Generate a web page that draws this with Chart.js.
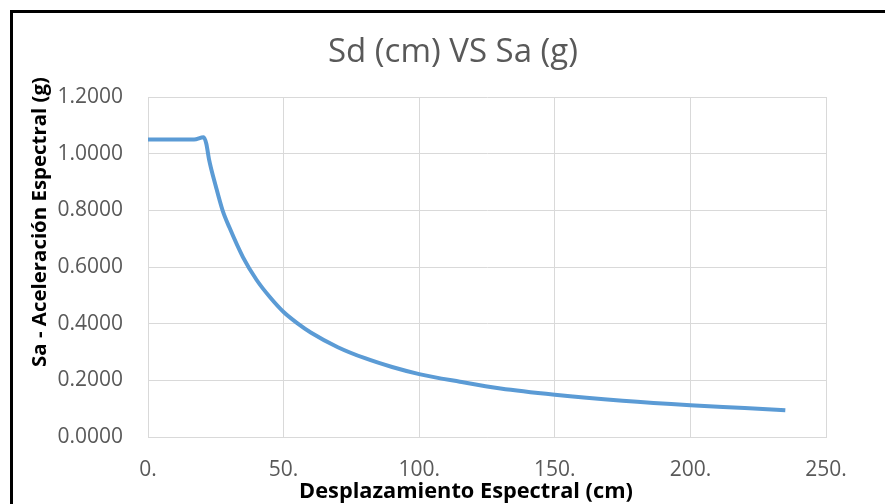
<!DOCTYPE html>
<html lang="es">
  <head>
    <meta charset="UTF-8" />
    <title>Sd (cm) VS Sa (g)</title>
    <script src="https://cdn.jsdelivr.net/npm/chart.js"></script>
    <style>
      html, body {
        margin: 0;
        padding: 0;
        background: #ffffff;
        overflow: hidden;
      }
      #wrap {
        position: relative;
        width: 885px;
        height: 504px;
      }
      #frame {
        position: absolute;
        left: 10px;
        top: 10px;
        width: 2000px;
        height: 2000px;
        border: 3px solid #000000;
        pointer-events: none;
      }
    </style>
  </head>
  <body>
    <div id="wrap">
      <canvas id="spectrumChart" width="885" height="504"></canvas>
      <div id="frame"></div>
    </div>

    <script>
      // Values
      const sdValues = [0, 17, 20.5, 21.5, 22.5, 25, 27.5, 30, 35, 40, 45, 50, 55, 60, 70, 80, 90, 100, 115, 130, 150, 175, 200, 220, 235];
      const saValues = [1.05, 1.05, 1.058, 1.035, 0.98, 0.885, 0.8, 0.74, 0.635, 0.555, 0.493, 0.441, 0.402, 0.369, 0.317, 0.278, 0.247, 0.222, 0.195, 0.171, 0.149, 0.128, 0.112, 0.102, 0.094];
      const xTickValues = [0, 50, 100, 150, 200, 250];
      const yTickValues = [0, 0.2, 0.4, 0.6, 0.8, 1.0, 1.2];

      const chartTitle = "Sd (cm) VS Sa (g)";
      const xTitle = "Desplazamiento Espectral (cm)";
      const yTitle = "Sa - Aceleración Espectral (g)";

      const FONT = "'Open Sans', 'Noto Sans', sans-serif";
      const GRID = "#d9d9d9";
      const TEXT_GRAY = "#595959";

      // scale a font so the text spans the given width
      function fitFont(ctx, text, width, weight) {
        ctx.font = weight + " 100px " + FONT;
        const size = (100 * width) / ctx.measureText(text).width;
        return weight + " " + size.toFixed(2) + "px " + FONT;
      }

      const titlesPlugin = {
        id: "titles",
        afterDraw(chart) {
          const ctx = chart.ctx;
          ctx.save();
          ctx.textAlign = "center";
          ctx.textBaseline = "alphabetic";

          // main title
          ctx.fillStyle = TEXT_GRAY;
          ctx.font = fitFont(ctx, chartTitle, 250, "normal");
          ctx.fillText(chartTitle, 453, 62);

          // x axis title
          ctx.fillStyle = "#000000";
          ctx.font = fitFont(ctx, xTitle, 334, "bold");
          ctx.fillText(xTitle, 466, 498);

          // y axis title, rotated
          ctx.font = fitFont(ctx, yTitle, 290, "bold");
          ctx.translate(46, 222);
          ctx.rotate(-Math.PI / 2);
          ctx.fillText(yTitle, 0, 0);
          ctx.restore();
        },
      };

      const ctx = document.getElementById("spectrumChart").getContext("2d");

      new Chart(ctx, {
        type: "line",
        data: {
          datasets: [
            {
              label: "Sa",
              data: sdValues.map((sd, i) => ({x: sd, y: saValues[i]})),
              borderColor: "#5b9bd5",
              borderWidth: 4,
              pointRadius: 0,
              fill: false,
              cubicInterpolationMode: "monotone",
            },
          ],
        },
        options: {
          responsive: false,
          animation: false,
          layout: {
            padding: {top: 97, right: 59, left: 0, bottom: 0},
          },
          plugins: {
            legend: {display: false},
            title: {display: false},
            tooltip: {enabled: false},
          },
          scales: {
            x: {
              type: "linear",
              min: 0,
              max: 250,
              afterBuildTicks: scale => {
                scale.ticks = xTickValues.map(v => ({value: v}));
              },
              afterFit: scale => {
                scale.height = 67;
              },
              grid: {color: GRID, lineWidth: 1, drawTicks: false},
              border: {display: true, color: GRID, width: 1},
              ticks: {
                padding: 20,
                color: TEXT_GRAY,
                font: {family: FONT, size: 21},
                callback: value => value.toFixed(0) + ".",
              },
            },
            y: {
              min: 0,
              max: 1.2,
              afterBuildTicks: scale => {
                scale.ticks = yTickValues.map(v => ({value: v}));
              },
              afterFit: scale => {
                scale.width = 148;
              },
              grid: {color: GRID, lineWidth: 1, drawTicks: false},
              border: {display: true, color: GRID, width: 1},
              ticks: {
                padding: 25,
                color: TEXT_GRAY,
                font: {family: FONT, size: 21},
                callback: value => value.toFixed(4),
              },
            },
          },
        },
        plugins: [titlesPlugin],
      });
    </script>
  </body>
</html>
